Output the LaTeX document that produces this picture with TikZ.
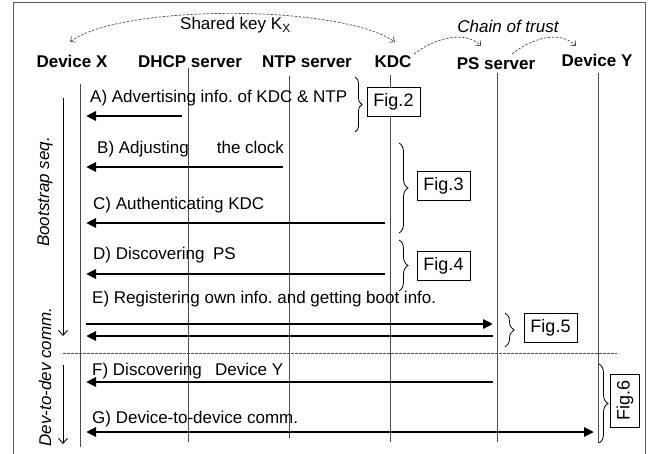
\documentclass[tikz,border=0pt]{standalone}
\usepackage{fontspec}
\setmainfont{Liberation Sans}
\usetikzlibrary{arrows.meta,decorations.pathreplacing}
\frenchspacing
\begin{document}
\frenchspacing
\begin{tikzpicture}[x=1pt,y=-1pt,
  every node/.style={inner sep=0pt, font=\fontsize{17}{20}\selectfont},
  hdr/.style={font=\fontsize{17}{20}\selectfont\bfseries, anchor=base},
  lbl/.style={anchor=base west},
  life/.style={line width=0.9pt, black!70},
  frame/.style={line width=1pt, black!65},
  msg/.style={line width=2.6pt, -{Triangle[length=10pt,width=9pt]}},
  msgboth/.style={line width=2.6pt, {Triangle[length=10pt,width=9pt]}-{Triangle[length=10pt,width=9pt]}},
  phase/.style={line width=0.9pt, -{Straight Barb[length=5pt,width=9pt]}},
  trust/.style={line width=0.7pt, black!70, dash pattern=on 2.5pt off 1.5pt},
  trustarrow/.style={trust, -{Straight Barb[length=4pt,width=7pt]}},
  sep/.style={line width=0.7pt, black!70, dash pattern=on 2.5pt off 1.5pt},
  figbox/.style={draw, line width=0.8pt, fill=white, minimum width=53pt, minimum height=29pt, font=\fontsize{18}{20}\selectfont},
  brc/.style={line width=0.8pt, decorate, decoration={brace, amplitude=#1}}
]
\useasboundingbox (0,0) rectangle (653,454);
% frame
\draw[frame] (13,454) -- (13,3) -- (645,3) -- (645,454);

% headers
\node[hdr] (devx) at (72,68) {Device X};
\node[hdr] (dhcp) at (190,68) {DHCP server};
\node[hdr] (ntp)  at (307,68) {NTP server};
\node[hdr] (kdc)  at (393,68) {KDC};
\node[hdr] (ps)   at (496,70) {PS server};
\node[hdr] (devy) at (597,67) {Device Y};

% lifelines
\coordinate (lxT) at (80,84);   \coordinate (lxB) at (80,447);
\coordinate (ldT) at (188,68);  \coordinate (ldB) at (188,442);
\coordinate (lnT) at (289,76);  \coordinate (lnB) at (289,438);
\coordinate (lkT) at (390,75);  \coordinate (lkB) at (390,442);
\coordinate (lpT) at (497,73);  \coordinate (lpB) at (497,442);
\coordinate (lyT) at (598,73);  \coordinate (lyB) at (598,443);
\draw[life] (lxT) -- (lxB);
\draw[life] (ldT) -- (ldB);
\draw[life] (lnT) -- (lnB);
\draw[life] (lkT) -- (lkB);
\draw[life] (lpT) -- (lpB);
\draw[life] (lyT) -- (lyB);

% shared key
\coordinate (skA) at (395,42);
\coordinate (skB) at (70,42);
\draw[trust, {Straight Barb[length=4pt,width=7pt]}-{Straight Barb[length=4pt,width=7pt]}]
  (skB) .. controls (120,4) and (340,4) .. (skA);
\node[anchor=base west] (sk) at (180,30) {Shared key K\textsubscript{X}};

% chain of trust
\node[anchor=base, font=\fontsize{17}{20}\selectfont\itshape] (cot) at (508,33) {Chain of trust};
\coordinate (c1s) at (414,54); \coordinate (c1e) at (481,46);
\coordinate (c2s) at (512,54); \coordinate (c2e) at (576,46);
\draw[trustarrow] (c1s) .. controls (435,38) and (465,30) .. (c1e);
\draw[trustarrow] (c2s) .. controls (532,38) and (560,30) .. (c2e);

% phase arrows
\coordinate (bsT) at (63,98);  \coordinate (bsB) at (63,336);
\coordinate (ddT) at (63,365); \coordinate (ddB) at (63,444);
\draw[phase] (bsT) -- (bsB);
\draw[phase] (ddT) -- (ddB);
\node[rotate=90] (bstxt) at (45,192) {\itshape Bootstrap seq.};
\node[rotate=90] (ddtxt) at (45,377) {\itshape Dev-to-dev comm.};

% separator
\coordinate (sepL) at (63,353); \coordinate (sepR) at (617,353);
\draw[sep] (sepL) -- (sepR);

% messages
\node[lbl] (la) at (90,103) {A) Advertising info. of KDC \& NTP};
\coordinate (aS) at (182,116); \coordinate (aE) at (86,116);
\draw[msg] (aS) -- (aE);

\node[lbl] (lb) at (97,154) {B) Adjusting\hspace{28pt}the clock};
\coordinate (bS) at (283,167); \coordinate (bE) at (86,167);
\draw[msg] (bS) -- (bE);

\node[lbl] (lc) at (93,210) {C) Authenticating KDC};
\coordinate (cS) at (385,223); \coordinate (cE) at (86,223);
\draw[msg] (cS) -- (cE);

\node[lbl] (ld) at (93,260) {D) Discovering\hspace{8.5pt}PS};
\coordinate (dS) at (385,274); \coordinate (dE) at (86,274);
\draw[msg] (dS) -- (dE);

\node[lbl] (le) at (92,303) {E) Registering own info. and getting boot info.};
\coordinate (e1S) at (86,324); \coordinate (e1E) at (493,324);
\draw[msg] (e1S) -- (e1E);
\coordinate (e2S) at (493,336); \coordinate (e2E) at (86,336);
\draw[msg] (e2S) -- (e2E);

\node[lbl] (lf) at (92,375) {F) Discovering\hspace{13.4pt}Device Y};
\coordinate (fS) at (493,382); \coordinate (fE) at (86,382);
\draw[msg] (fS) -- (fE);

\node[lbl] (lg) at (92,423) {G) Device-to-device comm.};
\coordinate (gS) at (86,432); \coordinate (gE) at (594,432);
\draw[msgboth] (gS) -- (gE);

% braces and figure refs
\draw[brc=7pt] (355,77) -- (355,132);
\node[figbox] (f2) at (393.5,102) {Fig.2};
\draw[brc=9pt] (399,143) -- (399,233);
\node[figbox] (f3) at (443.5,186) {Fig.3};
\draw[brc=9pt] (399,240) -- (399,291);
\node[figbox] (f4) at (443.5,266) {Fig.4};
\draw[brc=9pt] (505,313) -- (505,347);
\node[figbox] (f5) at (550.5,327.5) {Fig.5};
\draw[brc=9pt] (599,364) -- (599,443);
\node[figbox, rotate=90] (f6) at (625,400.5) {Fig.6};
\end{tikzpicture}
\end{document}
